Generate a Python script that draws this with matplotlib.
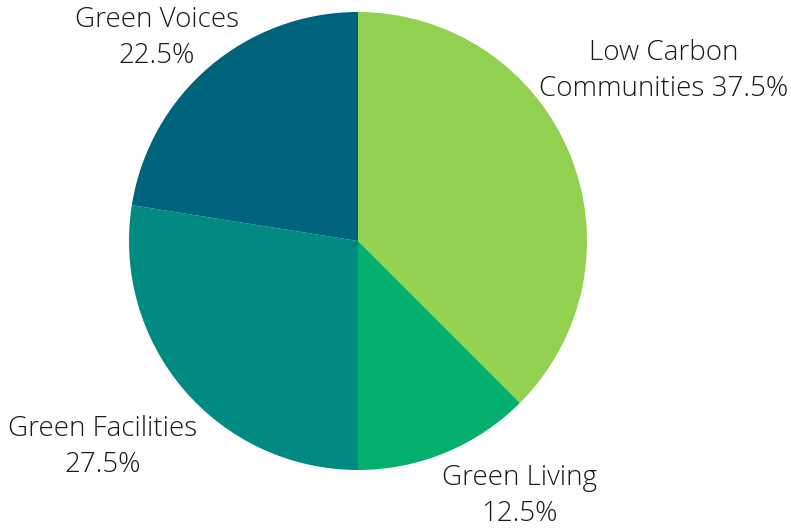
import matplotlib
matplotlib.use("Agg")
import matplotlib.pyplot as plt

categories = ["Low Carbon\nCommunities", "Green Living", "Green Facilities", "Green Voices"]
shares = [37.5, 12.5, 27.5, 22.5]
colors = ["#92D050", "#05B06C", "#008A82", "#00637C"]

# label text layout: (x, y) in pie units, and whether the percent goes on the same line
label_pos = [(1.336, 0.742), (0.707, -1.114), (-1.114, -0.90), (-0.878, 0.886)]
same_line = [True, False, False, False]

fig = plt.figure(figsize=(7.91, 5.31), dpi=100)
ax = fig.add_axes([129 / 791, 61 / 531, 458 / 791, 458 / 531])

ax.pie(shares, colors=colors, startangle=90, counterclock=False,
       radius=1, wedgeprops=dict(linewidth=0))
ax.set_xlim(-1, 1)
ax.set_ylim(-1, 1)
ax.set_aspect("equal")
ax.axis("off")

for name, val, (x, y), inline in zip(categories, shares, label_pos, same_line):
    sep = " " if inline else "\n"
    ax.text(x, y, f"{name}{sep}{val}%", ha="center", va="center",
            fontsize=20, family="Open Sans", fontweight="light",
            color="#1a1a1a", linespacing=1.4, clip_on=False)

fig.savefig("out.png", dpi=100)
